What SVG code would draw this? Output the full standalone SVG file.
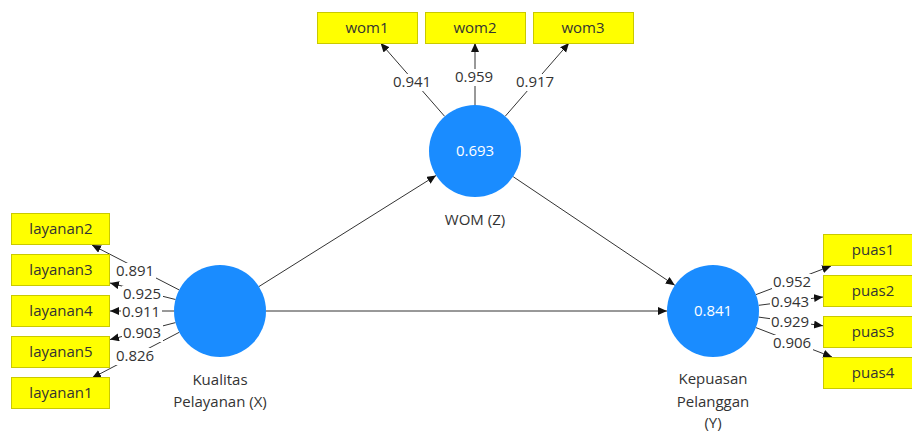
<svg xmlns="http://www.w3.org/2000/svg" width="912" height="432" viewBox="0 0 912 432">
<style>
text{font-family:"Open Sans","Noto Sans","Liberation Sans",sans-serif;font-size:15px;fill:#333;text-anchor:middle}
.box{fill:#ffff00;stroke:#c9c900;stroke-width:1}
.lv{fill:#1a8cff}
.lv-val{fill:#ffffff}
.ln{stroke:#333;stroke-width:1;fill:none;marker-end:url(#ah)}
.bg{fill:#ffffff}
</style>
<defs>
<marker id="ah" markerUnits="userSpaceOnUse" markerWidth="10" markerHeight="10" refX="9" refY="4" orient="auto">
<path d="M0,0 L9,4 L0,8 Z" fill="#111"/>
</marker>
</defs>
<rect width="912" height="432" fill="#ffffff"/>
<g id="connectors">
<line class="ln" x1="259" y1="286.5" x2="436" y2="175.5"/>
<line class="ln" x1="266" y1="311" x2="667" y2="311"/>
<line class="ln" x1="513.2" y1="176.7" x2="674.8" y2="285.3"/>
<line class="ln" x1="444.7" y1="116.4" x2="380.6" y2="43"/>
<line class="ln" x1="475" y1="105" x2="475" y2="43"/>
<line class="ln" x1="505.2" y1="116.3" x2="569" y2="43"/>
<line class="ln" x1="179.1" y1="289.9" x2="92" y2="245"/>
<line class="ln" x1="175.5" y1="299.5" x2="110" y2="283"/>
<line class="ln" x1="174" y1="311" x2="110" y2="311"/>
<line class="ln" x1="175.5" y1="322.6" x2="110" y2="339.6"/>
<line class="ln" x1="179.2" y1="332.3" x2="92" y2="378"/>
<line class="ln" x1="756" y1="294.6" x2="831" y2="266"/>
<line class="ln" x1="758.7" y1="305.3" x2="823" y2="297"/>
<line class="ln" x1="758.6" y1="317.1" x2="823" y2="325.8"/>
<line class="ln" x1="755.9" y1="327.6" x2="832" y2="357"/>
<g id="loading-labels">
<rect class="bg" x="392" y="74" width="41" height="17"/><text x="412" y="87">0.941</text>
<rect class="bg" x="454" y="69" width="41" height="17"/><text x="474" y="82">0.959</text>
<rect class="bg" x="515" y="74" width="41" height="17"/><text x="535" y="87">0.917</text>
<rect class="bg" x="115" y="263" width="41" height="17"/><text x="135" y="276">0.891</text>
<rect class="bg" x="122" y="286" width="41" height="17"/><text x="142" y="299">0.925</text>
<rect class="bg" x="121" y="304" width="41" height="16"/><text x="141" y="317">0.911</text>
<rect class="bg" x="122" y="325" width="41" height="17"/><text x="142" y="338">0.903</text>
<rect class="bg" x="115" y="348" width="41" height="17"/><text x="135" y="361">0.826</text>
<rect class="bg" x="772" y="274" width="41" height="17"/><text x="792" y="287">0.952</text>
<rect class="bg" x="770" y="294" width="41" height="17"/><text x="790" y="307">0.943</text>
<rect class="bg" x="770" y="314" width="41" height="17"/><text x="790" y="327">0.929</text>
<rect class="bg" x="772" y="335" width="41" height="17"/><text x="792" y="348">0.906</text>
</g>
</g>
<g id="wom">
<circle class="lv" cx="475" cy="151" r="46"/>
<text class="lv-val" x="475" y="156">0.693</text>
<text x="475" y="225">WOM (Z)</text>
</g>
<g id="kualitas">
<circle class="lv" cx="220" cy="311" r="46"/>
<text x="220" y="385">Kualitas</text>
<text x="220" y="407">Pelayanan (X)</text>
</g>
<g id="kepuasan">
<circle class="lv" cx="713" cy="311" r="46"/>
<text class="lv-val" x="713" y="316">0.841</text>
<text x="713" y="384">Kepuasan</text>
<text x="713" y="407">Pelanggan</text>
<text x="713" y="428">(Y)</text>
</g>
<g id="wom1"><rect class="box" x="317.5" y="12.5" width="100" height="31"/><text x="367" y="33">wom1</text></g>
<g id="wom2"><rect class="box" x="425.5" y="12.5" width="100" height="31"/><text x="475" y="33">wom2</text></g>
<g id="wom3"><rect class="box" x="533.5" y="12.5" width="100" height="31"/><text x="583" y="33">wom3</text></g>
<g id="layanan2"><rect class="box" x="11.5" y="213.5" width="98" height="31"/><text x="61" y="234">layanan2</text></g>
<g id="layanan3"><rect class="box" x="11.5" y="254.5" width="98" height="31"/><text x="61" y="275">layanan3</text></g>
<g id="layanan4"><rect class="box" x="11.5" y="295.5" width="98" height="31"/><text x="61" y="316">layanan4</text></g>
<g id="layanan5"><rect class="box" x="11.5" y="336.5" width="98" height="31"/><text x="61" y="357">layanan5</text></g>
<g id="layanan1"><rect class="box" x="11.5" y="377.5" width="98" height="31"/><text x="61" y="398">layanan1</text></g>
<g id="puas1"><rect class="box" x="823.5" y="234.5" width="100" height="31"/><text x="873" y="255">puas1</text></g>
<g id="puas2"><rect class="box" x="823.5" y="275.5" width="100" height="31"/><text x="873" y="296">puas2</text></g>
<g id="puas3"><rect class="box" x="823.5" y="316.5" width="100" height="31"/><text x="873" y="337">puas3</text></g>
<g id="puas4"><rect class="box" x="823.5" y="357.5" width="100" height="31"/><text x="873" y="378">puas4</text></g>
</svg>
